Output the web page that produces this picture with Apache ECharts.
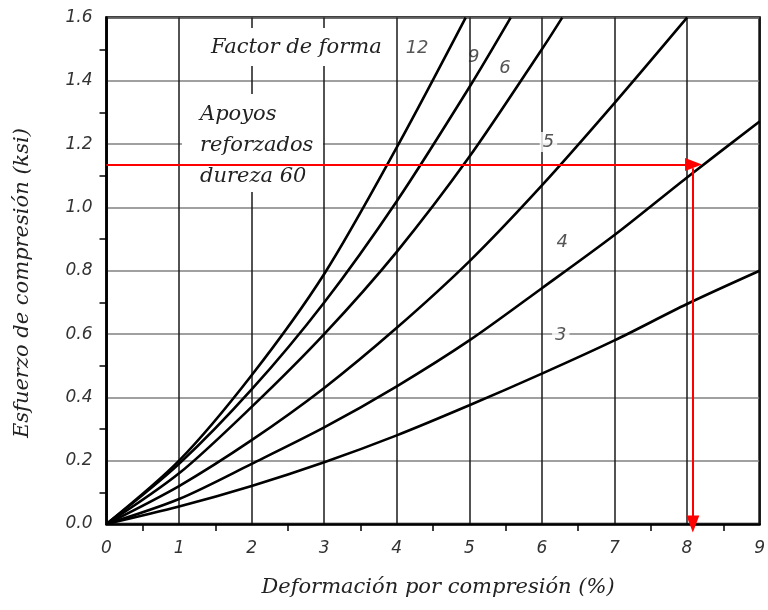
<!DOCTYPE html>
<html>
<head>
<meta charset="utf-8">
<script src="https://cdn.jsdelivr.net/npm/echarts@6/dist/echarts.min.js"></script>
<style>
html,body{margin:0;padding:0;background:#fff;}
#c{width:768px;height:610px;}
</style>
</head>
<body>
<div id="c"></div>
<script>
// ---- data ----
const xTicks = [0,1,2,3,4,5,6,7,8,9];
const yTicks = [0.0,0.2,0.4,0.6,0.8,1.0,1.2,1.4,1.6];
const curve12 = [[0,0],[1,0.2],[2,0.47],[3,0.79],[4,1.19],[4.95,1.6]];
const curve9  = [[0,0],[1,0.19],[2,0.425],[3,0.70],[4,1.02],[5,1.38],[5.57,1.6]];
const curve6  = [[0,0],[1,0.16],[2,0.37],[3,0.6],[4,0.86],[5,1.16],[6,1.5],[6.28,1.6]];
const curve5  = [[0,0],[1,0.12],[2,0.265],[3,0.43],[4,0.62],[5,0.83],[6,1.07],[7,1.33],[8.0,1.6]];
const curve4  = [[0,0],[1,0.079],[2,0.19],[3,0.305],[4,0.435],[5,0.58],[6,0.745],[7,0.913],[8,1.095],[9,1.272]];
const curve3  = [[0,0],[1,0.055],[2,0.12],[3,0.195],[4,0.28],[5,0.375],[6,0.475],[7,0.58],[8,0.695],[9,0.80]];
const curveNames = ['12','9','6','5','4','3'];
const readStress = 1.136;   // red reading line
const readStrain = 8.08;

// ---- annotation anchors (data coordinates) ----
const curveLabelPos = {'12':[4.28,1.504],'9':[5.06,1.475],'6':[5.49,1.44],'5':[6.09,1.207],'4':[6.28,0.891],'3':[6.26,0.597]};
const labelBg = {'12':false,'9':false,'6':false,'5':true,'4':true,'3':true};

const chart = echarts.init(document.getElementById('c'), null, {renderer:'canvas'});
const sans = 'DejaVu Sans';
const curves = [curve12, curve9, curve6, curve5, curve4, curve3];

const lineSeries = curves.map((d,i)=>({
  type:'line', name:curveNames[i], data:d, smooth:0.3,
  showSymbol:false, symbol:'none', z:3,
  lineStyle:{color:'#000', width:2.6}, animation:false
}));

const labelSeries = {
  type:'scatter', z:2, symbolSize:2, itemStyle:{color:'rgba(0,0,0,0)'}, animation:false, silent:true,
  data: curveNames.map(n=>({
    value: curveLabelPos[n],
    label:{show:true, position:'inside', formatter:n,
      fontFamily:sans, fontStyle:'italic', fontSize:18, color:'#2a2a2a',
      backgroundColor: labelBg[n] ? '#fff' : 'rgba(255,255,255,0)', padding:[1,3]}
  }))
};

const arrowSeries = {
  type:'line', data:[], z:4, animation:false,
  markLine:{
    silent:true, animation:false, symbol:['none','triangle'], symbolSize:[13,17],
    label:{show:false},
    lineStyle:{color:'#f00', width:2, type:'solid'},
    data:[
      [{coord:[0,readStress]},{coord:[readStrain+0.01,readStress]}],
      [{coord:[readStrain,readStress-0.012]},{coord:[readStrain,0]}]
    ]
  }
};

chart.setOption({
  backgroundColor:'#fff',
  animation:false,
  grid:{left:106.5, right:1.5, top:17.6, bottom:86, show:true, borderColor:'#000', borderWidth:2.5, containLabel:false},
  xAxis:{
    type:'value', min:0, max:9, interval:1,
    axisLine:{show:true, lineStyle:{color:'#000', width:2.5}},
    axisTick:{show:false},
    minorTick:{show:true, splitNumber:2, length:7, lineStyle:{color:'#000', width:1.5}},
    axisLabel:{margin:16, fontFamily:sans, fontStyle:'italic', fontSize:17, color:'#333',
      formatter:v=>xTicks.includes(v)?String(v):''},
    splitLine:{show:true, lineStyle:{color:'#1a1a1a', width:1.5}},
    minorSplitLine:{show:false}
  },
  yAxis:{
    type:'value', min:0, max:1.6, interval:0.2,
    axisLine:{show:true, lineStyle:{color:'#000', width:2.5}},
    axisTick:{show:false},
    minorTick:{show:true, splitNumber:2, length:7, lineStyle:{color:'#000', width:1.5}},
    axisLabel:{margin:14, fontFamily:sans, fontStyle:'italic', fontSize:17, color:'#333',
      formatter:v=>v.toFixed(1)},
    splitLine:{show:true, lineStyle:{color:'#808080', width:1.5}}
  },
  graphic:[
    {type:'rect', z:1, shape:{x:200, y:28, width:196, height:38}, style:{fill:'#fff'}},
    {type:'text', z:2, x:211, y:48, style:{text:'Factor de forma', font:'italic 21px "DejaVu Serif"', fill:'#222', verticalAlign:'middle', align:'left'}},
    {type:'rect', z:1, shape:{x:182, y:94, width:141, height:98}, style:{fill:'#fff'}},
    {type:'text', z:2, x:200, y:115, style:{text:'Apoyos', font:'italic 21px "DejaVu Serif"', fill:'#222', verticalAlign:'middle', align:'left'}},
    {type:'text', z:2, x:200, y:146, style:{text:'reforzados', font:'italic 21px "DejaVu Serif"', fill:'#222', verticalAlign:'middle', align:'left'}},
    {type:'text', z:2, x:200, y:177, style:{text:'dureza 60', font:'italic 21px "DejaVu Serif"', fill:'#222', verticalAlign:'middle', align:'left'}},
    {type:'text', z:2, x:23, y:283, rotation:Math.PI/2, style:{text:'Esfuerzo de compresión (ksi)', font:'italic 21px "DejaVu Serif"', fill:'#222', verticalAlign:'middle', align:'center'}},
    {type:'text', z:2, x:438, y:588, style:{text:'Deformación por compresión (%)', font:'italic 21px "DejaVu Serif"', fill:'#222', verticalAlign:'middle', align:'center'}}
  ],
  series:[...lineSeries, labelSeries, arrowSeries]
});
</script>
</body>
</html>
